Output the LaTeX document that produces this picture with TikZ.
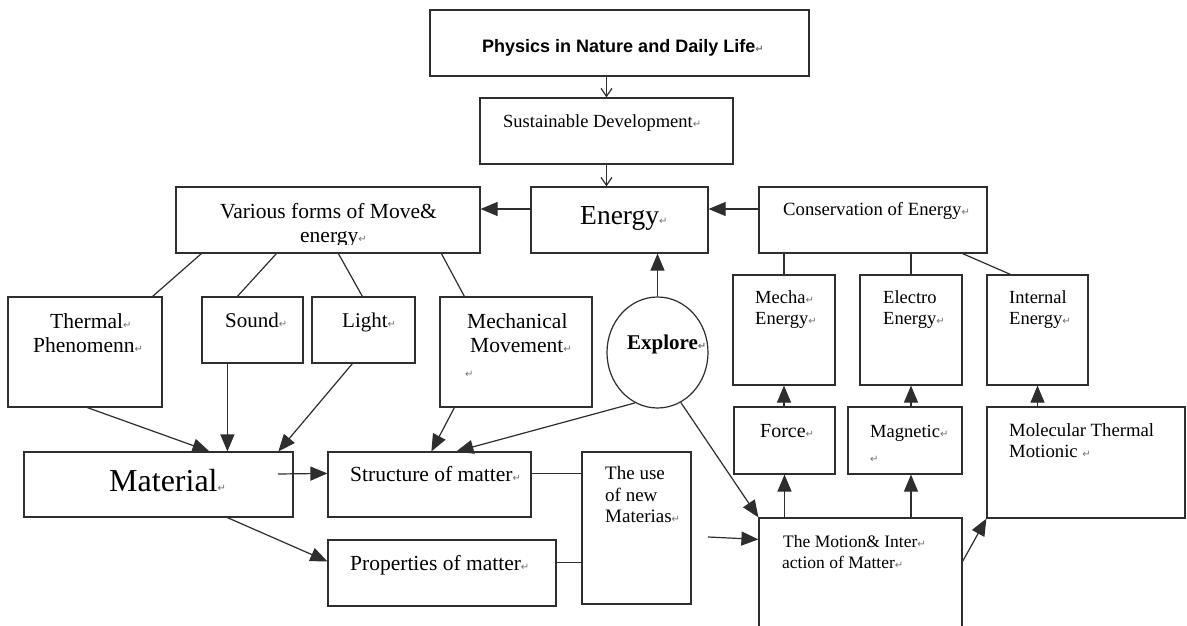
\documentclass[tikz,border=0pt]{standalone}
\usepackage{fontspec}
\setmainfont{Liberation Serif}
\setsansfont{Liberation Sans}
\newfontfamily\djv{DejaVu Sans}
\usetikzlibrary{arrows.meta,shapes.geometric,calc}
\newcommand\fs[1]{\fontsize{#1}{#1}\selectfont}
\newcommand\rt{{\djv\fontsize{10}{10}\selectfont\textcolor{black!55}{↵}}}
\newcommand\mybox[5]{\node[bx, minimum width={(#4-#2)*1pt}, minimum height={(#5-#3)*1pt}] (#1) at ({(#2+#4)/2},{(#3+#5)/2}) {};}
\newcommand\tw[5]{\node[tx, font=#4] (#1) at (#2,#3) {#5};}
\begin{document}
\begin{tikzpicture}[x=1pt,y=-1pt,
  bx/.style={draw=black!82, line width=1.2pt, rectangle, inner sep=0pt, fill=none},
  tx/.style={inner sep=0pt, anchor=base west, text=black},
  ln/.style={draw=black!82, line width=1.2pt},
  tri/.style={ln, -{Triangle[length=17pt,width=14pt]}},
  opn/.style={ln, -{Straight Barb[length=8pt,width=11pt]}}]
\useasboundingbox (0,0) rectangle (1187,626);
\clip (0,0) rectangle (1187,626);
\fill[white] (0,0) rectangle (1187,626);
% boxes
\mybox{top}{430}{10}{809}{76}
\mybox{sus}{480}{98}{733}{164}
\mybox{en}{531}{187}{708}{253}
\mybox{cons}{759}{187}{987}{253}
\mybox{vf}{176}{187}{480}{253}
\mybox{th}{8}{297}{162}{407}
\mybox{so}{202}{297}{303}{363}
\mybox{li}{312}{297}{415}{363}
\mybox{me}{440}{297}{592}{407}
\mybox{mc}{733}{275}{835}{385}
\mybox{el}{860}{275}{962}{385}
\mybox{ie}{987}{275}{1088}{385}
\mybox{fo}{734}{407}{835}{474}
\mybox{mg}{848}{407}{962}{474}
\mybox{mol}{987}{407}{1185}{518}
\mybox{mo}{759}{518}{962}{660}
\mybox{mat}{24}{452}{293}{517}
\mybox{st}{328}{452}{531}{517}
\mybox{pr}{328}{540}{556}{606}
\mybox{use}{582}{452}{691}{604}
\node[bx, ellipse, minimum width=101pt, minimum height=111pt] (ex) at (657.5,352.5) {};
% texts
\tw{t-top}{482}{53}{\sffamily\bfseries\fs{18}}{Physics in Nature and Daily Life\rt}
\tw{t-sus}{503}{128}{\fs{18.5}}{Sustainable Development\rt}
\tw{t-en}{580}{224}{\fs{27.5}}{Energy\rt}
\tw{t-cons}{783}{215}{\fs{18.7}}{Conservation of Energy\rt}
\node[tx, anchor=base, font=\fs{21.5}] (t-vf1) at (328.5,218) {Various forms of Move\&};
\begin{scope}
\clip (176,187) rectangle (480,244);
\tw{t-vf2}{300}{242}{\fs{21.5}}{energy\rt}
\end{scope}
\tw{t-th1}{50}{328}{\fs{21.5}}{Thermal\rt}
\tw{t-th2}{33}{352}{\fs{21.5}}{Phenomenn\rt}
\tw{t-so}{225}{327}{\fs{21}}{Sound\rt}
\tw{t-li}{342}{327}{\fs{21}}{Light\rt}
\tw{t-me1}{467}{328}{\fs{21.5}}{Mechanical}
\tw{t-me2}{470}{352}{\fs{21.5}}{Movement\rt}
\tw{t-me3}{465}{377}{\fs{21.5}}{\rt}
\tw{t-ex}{627}{349}{\bfseries\fs{21}}{Explore\rt}
\tw{t-mc1}{755}{303}{\fs{18.5}}{Mecha\rt}
\tw{t-mc2}{755}{324}{\fs{18.5}}{Energy\rt}
\tw{t-el1}{883}{303}{\fs{18.5}}{Electro}
\tw{t-el2}{883}{324}{\fs{18.5}}{Energy\rt}
\tw{t-ie1}{1009}{303}{\fs{18.5}}{Internal}
\tw{t-ie2}{1009}{324}{\fs{18.5}}{Energy\rt}
\tw{t-fo}{760}{437}{\fs{20}}{Force\rt}
\tw{t-mg1}{870}{437}{\fs{18.5}}{Magnetic\rt}
\tw{t-mg2}{870}{462}{\fs{18.5}}{\rt}
\tw{t-mol1}{1009}{436}{\fs{18.7}}{Molecular Thermal}
\tw{t-mol2}{1009}{457}{\fs{18.7}}{Motionic \rt}
\tw{t-mo1}{783}{547}{\fs{17.5}}{The Motion\& Inter\rt}
\tw{t-mo2}{782}{568}{\fs{17.5}}{action of Matter\rt}
\tw{t-mat}{109}{491}{\fs{32}}{Material\rt}
\tw{t-st}{350}{481}{\fs{21.5}}{Structure of matter\rt}
\tw{t-pr}{350}{570}{\fs{21.5}}{Properties of matter\rt}
\tw{t-use1}{605}{479}{\fs{19}}{The use}
\tw{t-use2}{605}{501}{\fs{19}}{of new}
\tw{t-use3}{605}{522}{\fs{19}}{Materias\rt}
% connectors
\draw[opn] (top.south -| sus.north) -- (sus.north);
\draw[opn] (sus.south) -- (sus.south |- en.north);
\draw[tri] ([yshift=11pt]cons.west) -- ([yshift=11pt]en.east);
\draw[tri] ([yshift=11pt]en.west) -- ([yshift=11pt]vf.east);
\draw[tri] (ex.north) -- (ex.north |- en.south);
\draw[ln] ($(vf.south west)+(26,0)$) -- ($(th.north east)+(-10,0)$);
\draw[ln] ($(vf.south west)+(101,0)$) -- ($(so.north west)+(36,0)$);
\draw[ln] ($(vf.south west)+(163,0)$) -- ($(li.north west)+(51,0)$);
\draw[ln] ($(vf.south west)+(266,0)$) -- ($(me.north west)+(25,0)$);
\draw[ln] (mc.north) -- (mc.north |- cons.south);
\draw[ln] (el.north) -- (el.north |- cons.south);
\draw[ln] ($(cons.south east)+(-25,0)$) -- ($(ie.north west)+(24,0)$);
\draw[tri] (fo.north -| mc.south) -- (mc.south);
\draw[tri] (mg.north -| el.south) -- (el.south);
\draw[tri] (mol.north -| ie.south) -- (ie.south);
\draw[tri] (mo.north -| fo.south) -- (fo.south);
\draw[tri] (mo.north -| el.south) -- (mg.south -| el.south);
\draw[tri] ($(mo.north east)+(0,44)$) -- (mol.south west);
\draw[tri] (ex.-65) -- (mo.north west);
\coordinate (fr) at (708,537);
\draw[tri] (fr) -- ($(mo.north west)+(0,22)$);
\draw[tri] ($(th.south west)+(80,0)$) -- ($(mat.north west)+(186,0)$);
\draw[tri] ($(so.south west)+(26,0)$) -- ($(mat.north west)+(204,0)$);
\draw[tri] ($(li.south west)+(41,0)$) -- ($(mat.north west)+(255,0)$);
\draw[tri] ($(me.south west)+(15,0)$) -- ($(st.north west)+(104,0)$);
\draw[tri] (ex.-114) -- ($(st.north west)+(129,0)$);
\coordinate (ms) at (278,474);
\draw[tri] (ms) -- ($(st.north west)+(0,22)$);
\draw[tri] ($(mat.south west)+(204,0)$) -- ($(pr.north west)+(0,22)$);
\draw[ln] ($(st.north east)+(0,22)$) coordinate (a1) -- (a1 -| use.west);
\draw[ln] ($(pr.north east)+(0,23)$) coordinate (a2) -- (a2 -| use.west);
\end{tikzpicture}
\end{document}
